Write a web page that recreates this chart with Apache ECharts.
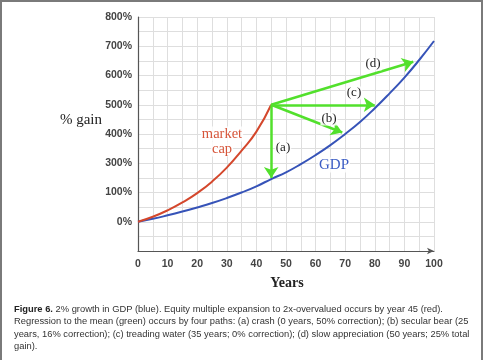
<!DOCTYPE html>
<html>
<head>
<meta charset="utf-8">
<script src="https://cdn.jsdelivr.net/npm/echarts@6/dist/echarts.min.js"></script>
<style>html,body{margin:0;padding:0;background:#fff}#c{width:485px;height:360px}</style>
</head>
<body>
<div id="c"></div>
<script>
// ---- data ----
const gdpYears = [0,5,10,15,20,25,30,35,40,45,50,55,60,65,70,75,80,85,90,95,100];
const gdpGain  = [0,10,22,35,49,64,81,100,121,146,169,197,228,262,300,341,388,439,493,553,618];
const capYears = [0,5,10,15,20,25,30,35,40,45];
const capGain  = [0,17,39,66,98,137,185,243,308,400];
const arrowStart = [45, 400];
const arrowNames = ['(a)','(b)','(c)','(d)'];
const arrowEndYears = [45, 69, 80, 93];
const arrowEndGain  = [150, 305, 400, 547];
const yTickValues = [0,100,200,300,400,500,600,700];
const yTickLabels = ['0%','100%','300%','400%','500%','600%','700%','800%'];
const xTickLabels = ['0','10','20','30','40','50','60','70','80','90','100'];
const captionLines = [
  ['Figure 6.', ' 2% growth in GDP (blue). Equity multiple expansion to 2x-overvalued occurs by year 45 (red).'],
  ['', 'Regression to the mean (green) occurs by four paths: (a) crash (0 years, 50% correction); (b) secular bear (25'],
  ['', 'years, 16% correction); (c) treading water (35 years; 0% correction); (d) slow appreciation (50 years; 25% total'],
  ['', 'gain).']
];

const chart = echarts.init(document.getElementById('c'), null, {renderer:'canvas'});
const serif = '"Liberation Serif","DejaVu Serif",serif';
const sans = '"Liberation Sans",Arial,sans-serif';

const gdpData = gdpYears.map((x,i)=>[x,gdpGain[i]]);
const capData = capYears.map((x,i)=>[x,capGain[i]]);
const arrowData = arrowEndYears.map((x,i)=>({name: arrowNames[i], coords:[arrowStart,[x,arrowEndGain[i]]]}));

function ann(x, y, text, font, fill){
  return {type:'text', x:x, y:y, z:10, style:{text:text, font:font, fill:fill, align:'center', verticalAlign:'middle',
    backgroundColor:'rgba(255,255,255,0.85)', padding:[0,1]}};
}
const graphics = [
  {type:'rect', shape:{x:1,y:1,width:481,height:364}, style:{fill:'none', stroke:'#7a7a7a', lineWidth:2}, silent:true},
  {type:'text', x:81, y:120, style:{text:'% gain', font:'15px '+serif, fill:'#222', align:'center', verticalAlign:'middle'}},
  {type:'text', x:287, y:283, style:{text:'Years', font:'bold 14px '+serif, fill:'#222', align:'center', verticalAlign:'middle'}},
  ann(222, 134, 'market', '14.5px '+serif, '#d6553a'),
  ann(222, 149, 'cap', '14.5px '+serif, '#d6553a'),
  ann(334, 165, 'GDP', '15px '+serif, '#3b5cc4'),
  ann(283, 148, arrowNames[0], '13px '+serif, '#222'),
  ann(329, 119, arrowNames[1], '13px '+serif, '#222'),
  ann(354, 93, arrowNames[2], '13px '+serif, '#222'),
  ann(373, 64, arrowNames[3], '13px '+serif, '#222')
];
captionLines.forEach((ln,i)=>{
  graphics.push({type:'text', x:14, y:309 + i*12.6, style:{
    text: (ln[0] ? '{b|'+ln[0]+'}' : '') + '{r|'+ln[1]+'}',
    verticalAlign:'middle', align:'left',
    rich:{b:{font:'bold 9.35px '+sans, fill:'#222'}, r:{font:'9.35px '+sans, fill:'#333'}}
  }});
});

chart.setOption({
  animation:false,
  backgroundColor:'#fff',
  grid:{left:138, top:17, width:296, height:234, containLabel:false},
  xAxis:{type:'value', min:0, max:100, interval:5,
    axisLine:{show:true, onZero:false, lineStyle:{color:'#555', width:1.2}, symbol:['none','arrow'], symbolSize:[5,7]},
    axisTick:{show:false},
    axisLabel:{margin:8, color:'#444', fontFamily:sans, fontSize:10.5, fontWeight:'bold',
      formatter:v=> (v%10===0 ? xTickLabels[v/10] : '')},
    splitLine:{show:true, lineStyle:{color:'#dedede', width:1}}
  },
  yAxis:{type:'value', min:-100, max:700, interval:50,
    axisLine:{show:true, onZero:false, lineStyle:{color:'#555', width:1.2}},
    axisTick:{show:false},
    axisLabel:{margin:6, color:'#444', fontFamily:sans, fontSize:10.5, fontWeight:'bold',
      formatter:v=>{const i=yTickValues.indexOf(v); return i>=0?yTickLabels[i]:'';}},
    splitLine:{show:true, lineStyle:{color:'#dedede', width:1}}
  },
  series:[
    {type:'line', data:gdpData, smooth:true, showSymbol:false, lineStyle:{color:'#3653b8', width:2}, z:3},
    {type:'line', data:capData, smooth:true, showSymbol:false, lineStyle:{color:'#d4472c', width:2}, z:3},
    {type:'lines', coordinateSystem:'cartesian2d', data:arrowData, symbol:['none','arrow'], symbolSize:[0,11],
      lineStyle:{color:'#52e02c', width:2.5, opacity:1}, z:4}
  ],
  graphic:graphics
});
</script>
</body>
</html>
